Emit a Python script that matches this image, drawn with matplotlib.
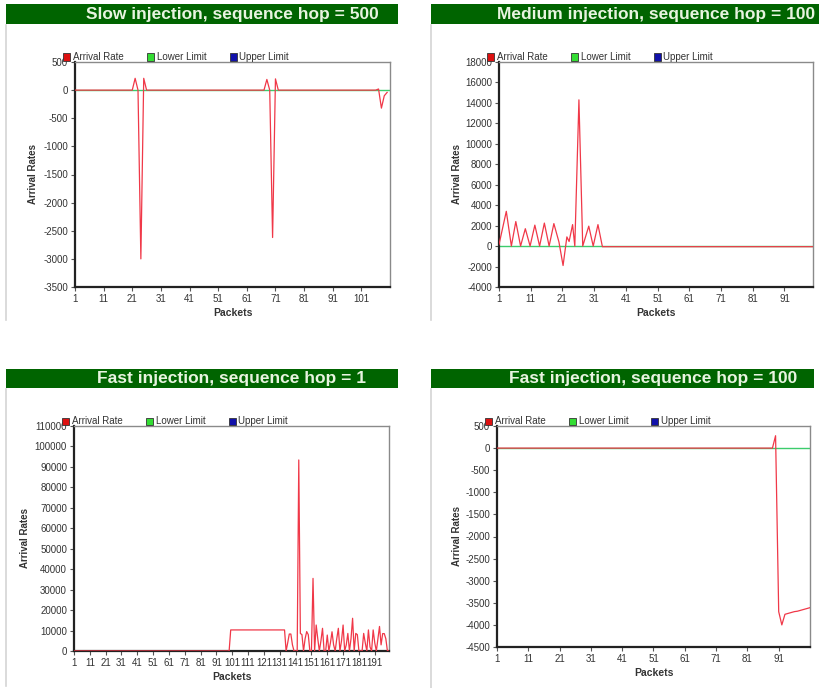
import matplotlib
matplotlib.use("Agg")
import matplotlib.pyplot as plt
from matplotlib.patches import Rectangle
from matplotlib.lines import Line2D
import numpy as np

# ---------------------------------------------------------------- data
# Slow injection, sequence hop = 500 (packets 1..110, limit to 111)
slow_rate = ([0] * 21 + [210, 0, -3000, 210] + [0] * 42 + [190, 0, -2620, 200]
             + [0] * 35 + [20, -320, -100, -40])
slow_limit = [0] * 111

# Medium injection, sequence hop = 100
med_packets = [1, 3.3, 4.9, 6.3, 7.8, 9.3, 10.8, 12.3, 13.8, 15.3, 16.8, 18.3,
               19.9, 21.2, 22.4, 23.1, 24.2, 24.9, 26.2, 27.4, 29.3, 30.7,
               32.2, 33.6, 100]
med_rate = [150, 3400, 0, 2400, 0, 1700, 0, 2050, 0, 2250, 0, 2200,
            400, -1900, 900, 450, 2100, 0, 14300, 0, 1950, 0,
            2100, -60, -60]
med_limit = [0] * 100

# Fast injection, sequence hop = 1 (packets 1..200)
fast1_rate = ([0] * 99 + [10300] * 35 +
              [0, 4000, 8300, 8300, 3000, 0, 0, 0, 93400, 8600,
               8000, 0, 6000, 9500, 8000, 0, 0, 35500, 0, 12700,
               6000, 0, 5000, 11100, 0, 0, 7800, 0, 4000, 9400,
               3000, 0, 6000, 11100, 0, 5000, 12700, 0, 3000, 8600,
               0, 6000, 16000, 0, 8600, 8000, 0, 0, 0, 8600,
               4000, 0, 10300, 2000, 0, 10300, 4000, 0, 6000, 12000,
               3000, 8500, 8500, 6000, 0, 0])
fast1_limit = [0] * 200

# Fast injection, sequence hop = 100 (packets 1..101)
fast100_rate = ([0] * 89 + [280, -3700, -4000, -3760, -3740, -3720, -3700,
                            -3690, -3670, -3650, -3630, -3610])
fast100_limit = [0] * 101

legend_labels = ["Arrival Rate", "Lower Limit", "Upper Limit"]
legend_colors = ["#dd1111", "#33dd33", "#1111aa"]

# ---------------------------------------------------------------- layout
W, H = 820, 688
plt.rcParams["font.family"] = ["Liberation Sans", "DejaVu Sans"]

fig = plt.figure(figsize=(W / 100, H / 100), dpi=100)
fig.patch.set_facecolor("white")


def fx(x):
    return x / W


def fy(y):
    return 1 - y / H


panels = [
    dict(title="Slow injection, sequence hop = 500",
         box=(75, 62, 390, 287), banner=(6, 4, 398, 24), border=(6, 25, 320),
         x=np.arange(1, len(slow_rate) + 1), y=slow_rate,
         lx=np.arange(1, len(slow_limit) + 1), ly=slow_limit,
         xlim=(1, 111), ylim=(-3500, 500), ystep=500, ylab_dx=42),
    dict(title="Medium injection, sequence hop = 100",
         box=(499, 62, 813, 287), banner=(431, 4, 822, 24), border=(431, 25, 320),
         x=np.array(med_packets), y=med_rate,
         lx=np.arange(1, len(med_limit) + 1), ly=med_limit,
         xlim=(1, 100), ylim=(-4000, 18000), ystep=2000, ylab_dx=42),
    dict(title="Fast injection, sequence hop = 1",
         box=(74, 426, 389, 651), banner=(6, 369, 398, 388), border=(6, 389, 686),
         x=np.arange(1, len(fast1_rate) + 1), y=fast1_rate,
         lx=np.arange(1, len(fast1_limit) + 1), ly=fast1_limit,
         xlim=(1, 200), ylim=(0, 110000), ystep=10000, ylab_dx=49),
    dict(title="Fast injection, sequence hop = 100",
         box=(497, 426, 810, 647), banner=(431, 369, 814, 388), border=(431, 389, 688),
         x=np.arange(1, len(fast100_rate) + 1), y=fast100_rate,
         lx=np.arange(1, len(fast100_limit) + 1), ly=fast100_limit,
         xlim=(1, 101), ylim=(-4500, 500), ystep=500, ylab_dx=40),
]

for p in panels:
    l, t, r, b = p["box"]
    ax = fig.add_axes([fx(l), fy(b), (r - l) / W, (b - t) / H])
    ax.set_facecolor("white")

    ax.plot(p["lx"], p["ly"], color="#3ccc6c", lw=1.0, zorder=2)
    ax.plot(p["x"], p["y"], color="#f03848", lw=0.9, zorder=3)

    ax.set_xlim(*p["xlim"])
    ax.set_ylim(*p["ylim"])
    xt = np.arange(1, p["xlim"][1], 10)
    ax.set_xticks(xt)
    ax.set_xticklabels([str(v) for v in xt])
    yt = np.arange(p["ylim"][0], p["ylim"][1] + 1, p["ystep"])
    ax.set_yticks(yt)
    ax.set_yticklabels([str(v) for v in yt])
    ax.tick_params(labelsize=7, labelcolor="#333333", color="#555555",
                   length=3, width=0.8, pad=2)

    for side in ("left", "bottom"):
        ax.spines[side].set_color("#222222")
        ax.spines[side].set_linewidth(1.6)
    for side in ("top", "right"):
        ax.spines[side].set_color("#8a8a8a")
        ax.spines[side].set_linewidth(1.0)

    # title banner
    bl, bt, br, bb = p["banner"]
    fig.add_artist(Rectangle((fx(bl), fy(bb)), (br - bl) / W, (bb - bt) / H,
                             transform=fig.transFigure, facecolor="#006400",
                             edgecolor="none", zorder=1))
    fig.text(fx((l + r) / 2), fy((bt + bb) / 2 + 0.5), p["title"],
             ha="center", va="center", fontsize=12.5, fontweight="bold",
             color="#e8f4e0", zorder=2)

    # faint panel border on the left
    gx, g0, g1 = p["border"]
    fig.add_artist(Line2D([fx(gx), fx(gx)], [fy(g0), fy(g1)],
                          transform=fig.transFigure, color="#d4d4d4", lw=1.2))

    # axis titles
    fig.text(fx(l - p["ylab_dx"]), fy((t + b) / 2), "Arrival Rates",
             rotation=90, ha="center", va="center", fontsize=7,
             fontweight="bold", color="#333333")
    fig.text(fx((l + r) / 2), fy(b + 26), "Packets", ha="center",
             va="center", fontsize=7.5, fontweight="bold", color="#333333")

    # legend row above the plot
    ly = t - 5
    for off, lab, col in zip((-8, 76, 158), legend_labels, legend_colors):
        cx = l + off
        fig.add_artist(Rectangle((fx(cx - 3.5), fy(ly + 3.5)), 7 / W, 7 / H,
                                 transform=fig.transFigure, facecolor=col,
                                 edgecolor="#333333", lw=0.6, zorder=5))
        fig.text(fx(cx + 6), fy(ly), lab, ha="left", va="center",
                 fontsize=7, color="#333333", zorder=5)

fig.savefig("out.png", dpi=100, facecolor="white")
